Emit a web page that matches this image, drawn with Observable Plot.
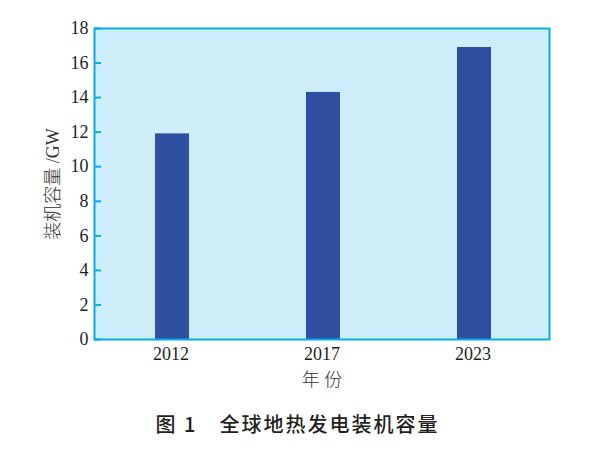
<!DOCTYPE html>
<html>
<head>
<meta charset="utf-8">
<script src="https://cdn.jsdelivr.net/npm/d3@7"></script>
<script src="https://cdn.jsdelivr.net/npm/@observablehq/plot@0.6"></script>
<style>
  html, body { margin: 0; padding: 0; background: #fff; }
  #chart { width: 595px; }
  #caption {
    width: 595px; text-align: center;
    font-family: "Noto Sans CJK SC", sans-serif;
    font-size: 20px; font-weight: 500; color: #231f20;
    letter-spacing: 2px; margin-top: 14px;
  }
</style>
</head>
<body>
<div id="chart"></div>
<div id="caption"></div>
<script>
const years = ["2012", "2017", "2023"];
const capacity = [11.9, 14.3, 16.9];
const yTicks = [0, 2, 4, 6, 8, 10, 12, 14, 16, 18];
const yLabel = "装机容量 /GW";
const xLabel = "年 份";
const captionText = "图 1\u3000全球地热发电装机容量";

const data = years.map((y, i) => ({year: y, value: capacity[i]}));

const W = 595, H = 395;
const mL = 94, mR = 46, mT = 28, mB = 56;
const plotW = W - mL - mR;
const serif = "'Liberation Serif', 'Noto Sans CJK SC', serif";

const chart = Plot.plot({
  width: W, height: H,
  marginLeft: mL, marginRight: mR, marginTop: mT, marginBottom: mB,
  style: {fontFamily: serif, color: "#231f20", background: "#fff"},
  x: {type: "band", domain: years, padding: 0},
  y: {domain: [0, 18]},
  marks: [
    Plot.frame({fill: "#cdeef9", stroke: null}),
    Plot.barY(data, {x: "year", y: "value", fill: "#2e4fa0", insetLeft: 60, insetRight: 57}),
    Plot.tickY(yTicks, {y: d => d, stroke: "#00aeef", strokeWidth: 2, insetRight: plotW - 7}),
    Plot.frame({stroke: "#00aeef", strokeWidth: 2}),
    Plot.axisY({ticks: yTicks, tickSize: 0, tickPadding: 6, fontSize: 18, fontFamily: serif,
      label: yLabel, labelAnchor: "center", labelArrow: "none", labelOffset: 48}),
    Plot.axisX({tickSize: 0, tickPadding: 8, fontSize: 18, fontFamily: serif,
      label: xLabel, labelAnchor: "center", labelArrow: "none", labelOffset: 46})
  ]
});
chart.querySelectorAll("g[aria-label='y-axis label'] text, g[aria-label='x-axis label'] text").forEach(t => {
  t.style.fontSize = "18px";
  t.style.fontWeight = "300";
  t.style.fill = "#333";
});
document.getElementById("chart").appendChild(chart);
document.getElementById("caption").textContent = captionText;
</script>
</body>
</html>
